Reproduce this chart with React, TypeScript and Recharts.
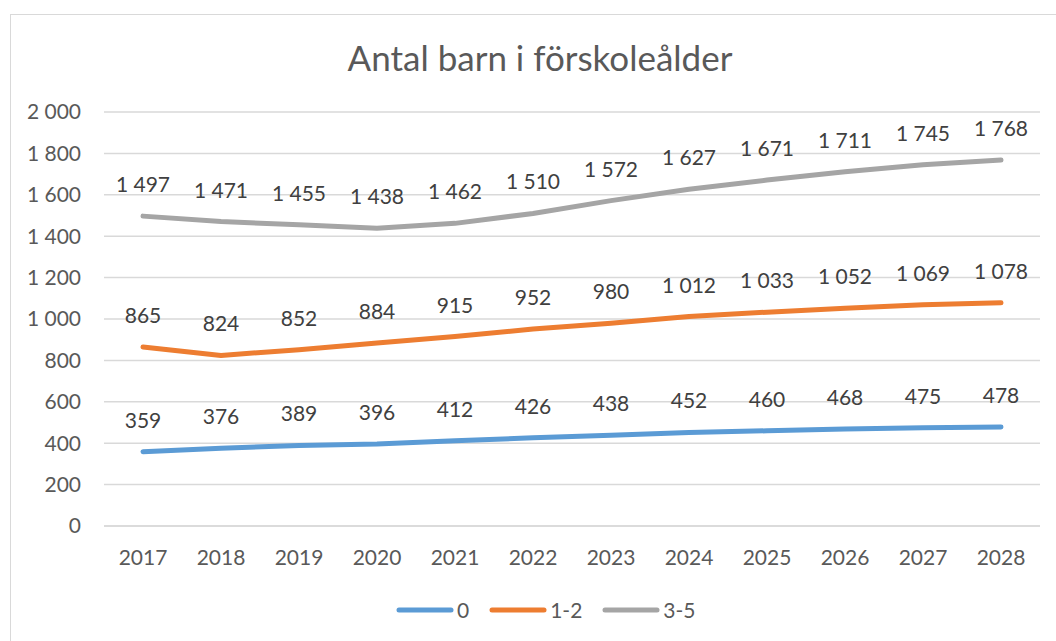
import React from 'react';
import {
  LineChart,
  Line,
  XAxis,
  YAxis,
  CartesianGrid,
  Legend,
  LabelList,
} from 'recharts';

const years = ['2017', '2018', '2019', '2020', '2021', '2022', '2023', '2024', '2025', '2026', '2027', '2028'];
const age0 = [359, 376, 389, 396, 412, 426, 438, 452, 460, 468, 475, 478];
const age1to2 = [865, 824, 852, 884, 915, 952, 980, 1012, 1033, 1052, 1069, 1078];
const age3to5 = [1497, 1471, 1455, 1438, 1462, 1510, 1572, 1627, 1671, 1711, 1745, 1768];
const yTicks = [0, 200, 400, 600, 800, 1000, 1200, 1400, 1600, 1800, 2000];

const series = [
  { key: '0', values: age0, color: '#5B9BD5' },
  { key: '1-2', values: age1to2, color: '#ED7D31' },
  { key: '3-5', values: age3to5, color: '#A5A5A5' },
];

const FONT = 'Lato, "Open Sans", sans-serif';

// 1497 -> "1 497"
const fmt = (v: number) => String(v).replace(/\B(?=(\d{3})+(?!\d))/g, ' ');

const data = years.map((year, i) => {
  const row: Record<string, any> = { year };
  series.forEach((s) => {
    row[s.key] = s.values[i];
  });
  return row;
});

function LegendContent({ payload }: any) {
  return (
    <div style={{ display: 'flex', alignItems: 'center', fontFamily: FONT, fontSize: 21, color: '#595959' }}>
      {(payload || []).map((p: any) => (
        <div key={p.value} style={{ display: 'flex', alignItems: 'center', marginRight: 20 }}>
          <svg width={58} height={8} style={{ marginRight: 3 }}>
            <line x1={3} y1={4} x2={55} y2={4} stroke={p.color} strokeWidth={5} strokeLinecap="round" />
          </svg>
          <span>{p.value}</span>
        </div>
      ))}
    </div>
  );
}

export default function App() {
  return (
    <div style={{ position: 'absolute', left: 0, top: 0, width: 1056, height: 641, overflow: 'hidden', background: '#fff' }}>
      <div
        style={{
          position: 'absolute',
          left: 10,
          top: 14,
          width: 1100,
          height: 700,
          border: '1.5px solid #D9D9D9',
          boxSizing: 'border-box',
        }}
      />
      <div
        style={{
          position: 'absolute',
          left: 0,
          width: 1080,
          top: 36,
          textAlign: 'center',
          fontFamily: FONT,
          fontSize: 35,
          color: '#595959',
        }}
      >
        Antal barn i förskoleålder
      </div>
      <LineChart
        width={1056}
        height={641}
        data={data}
        margin={{ top: 112, right: 16, left: 0, bottom: 0 }}
        style={{ position: 'absolute', left: 0, top: 0 }}
      >
        <CartesianGrid vertical={false} stroke="#D9D9D9" strokeWidth={1.5} />
        <XAxis
          dataKey="year"
          height={115}
          padding={{ left: 39, right: 39 }}
          axisLine={{ stroke: '#D9D9D9', strokeWidth: 1.5 }}
          tickLine={false}
          tickSize={0}
          tickMargin={24}
          tick={{ fill: '#595959', fontSize: 21, fontFamily: FONT }}
        />
        <YAxis
          width={104}
          domain={[0, 2000]}
          ticks={yTicks}
          tickFormatter={fmt}
          axisLine={false}
          tickLine={false}
          tickSize={0}
          tickMargin={23}
          tick={{ fill: '#595959', fontSize: 21, fontFamily: FONT }}
        />
        <Legend
          layout="horizontal"
          verticalAlign="middle"
          align="center"
          wrapperStyle={{ top: 597, left: 396, width: 'auto' }}
          content={<LegendContent />}
        />
        {series.map((s) => (
          <Line
            key={s.key}
            type="linear"
            dataKey={s.key}
            name={s.key}
            stroke={s.color}
            strokeWidth={5}
            strokeLinecap="round"
            strokeLinejoin="round"
            dot={false}
            activeDot={false}
            isAnimationActive={false}
          >
            <LabelList
              dataKey={s.key}
              position="top"
              offset={24}
              formatter={(v: any) => fmt(Number(v))}
              style={{ fill: '#404040', fontSize: 21, fontFamily: FONT }}
            />
          </Line>
        ))}
      </LineChart>
    </div>
  );
}
